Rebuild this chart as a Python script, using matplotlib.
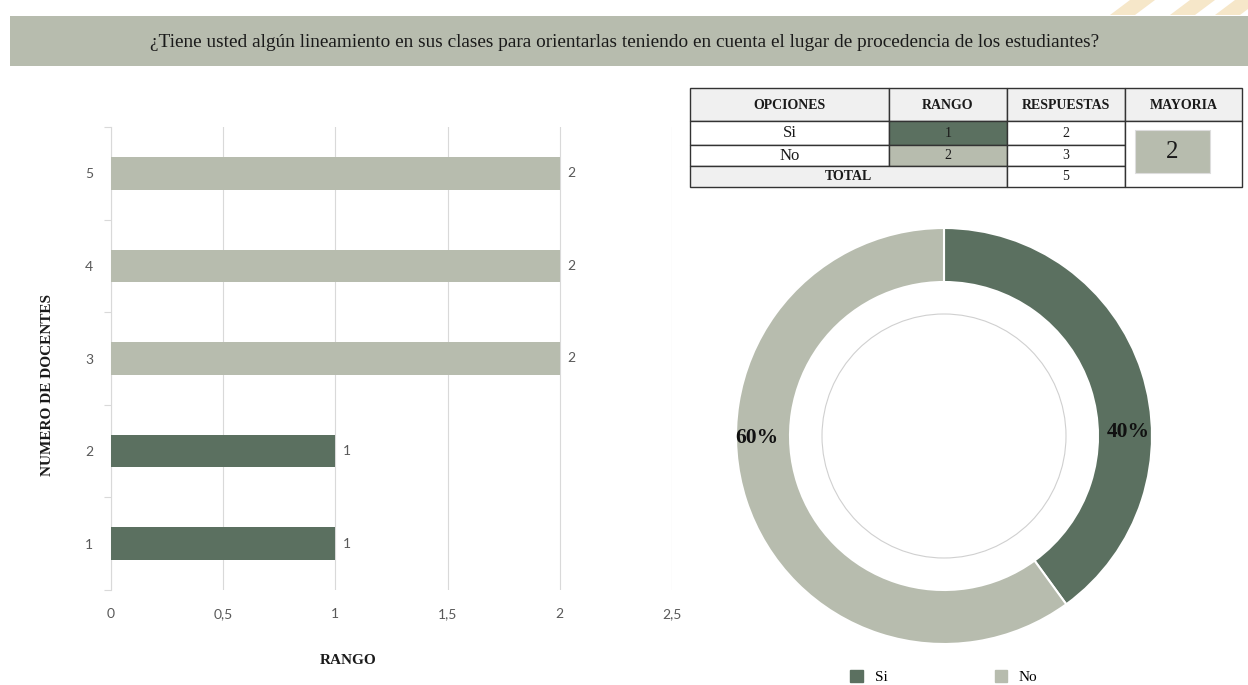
import matplotlib
matplotlib.use("Agg")
import matplotlib.pyplot as plt
from matplotlib.patches import Rectangle, Patch, Circle, Polygon

# ---------------- data ----------------
title = "¿Tiene usted algún lineamiento en sus clases para orientarlas teniendo en cuenta el lugar de procedencia de los estudiantes?"
docentes = [1, 2, 3, 4, 5]
rango_docente = [1, 1, 2, 2, 2]
x_ticks = [0, 0.5, 1, 1.5, 2, 2.5]
x_tick_labels = ["0", "0,5", "1", "1,5", "2", "2,5"]
opciones = ["Si", "No"]
rangos = [1, 2]
respuestas = [2, 3]
total_label = "TOTAL"
total = 5
mayoria = 2
headers = ["OPCIONES", "RANGO", "RESPUESTAS", "MAYORIA"]
pct_labels = ["40%", "60%"]

DARK = "#5B7060"
LIGHT = "#B7BCAE"
GRAY_TXT = "#595959"
SERIF = "Liberation Serif"
SANS = "Lato"

W, H = 1248, 685
fig = plt.figure(figsize=(W / 100, H / 100), dpi=100)
fig.patch.set_facecolor("white")

def fx(px):
    return px / W

def fy(py):
    return 1 - py / H

# ---------------- overlay (header, table) ----------------
ov = fig.add_axes([0, 0, 1, 1])
ov.set_xlim(0, W)
ov.set_ylim(H, 0)
ov.axis("off")
ov.set_zorder(0)

# faint watermark at top right
for x0 in (1110, 1170, 1215):
    ov.add_patch(Polygon([[x0, 15], [x0 + 20, 0], [x0 + 45, 0], [x0 + 25, 15]],
                         closed=True, color="#F6E7C9", lw=0))

ov.add_patch(Rectangle((10, 16), W - 10, 50, color=LIGHT, lw=0))
ov.text(625, 42, title, ha="center", va="center", family=SERIF, fontsize=13.9, color="#1a1a1a")

# table
cols = [690, 889, 1007, 1125, 1242]
rows = [88, 121, 145, 166, 187]
lw = 1.0
ec = "#333333"
# header row
for i in range(4):
    ov.add_patch(Rectangle((cols[i], rows[0]), cols[i + 1] - cols[i], rows[1] - rows[0],
                           facecolor="#F0F0F0", edgecolor=ec, lw=lw))
    ov.text((cols[i] + cols[i + 1]) / 2, (rows[0] + rows[1]) / 2 + 1, headers[i],
            ha="center", va="center", family=SERIF, fontweight="bold", fontsize=10, color="#1a1a1a")
# option rows
rcolors = [DARK, LIGHT]
for r in range(2):
    y0, y1 = rows[r + 1], rows[r + 2]
    ov.add_patch(Rectangle((cols[0], y0), cols[1] - cols[0], y1 - y0, facecolor="white", edgecolor=ec, lw=lw))
    ov.text((cols[0] + cols[1]) / 2, (y0 + y1) / 2, opciones[r], ha="center", va="center",
            family=SERIF, fontsize=12, color="#1a1a1a")
    ov.add_patch(Rectangle((cols[1], y0), cols[2] - cols[1], y1 - y0, facecolor=rcolors[r], edgecolor=ec, lw=lw))
    ov.text((cols[1] + cols[2]) / 2, (y0 + y1) / 2, str(rangos[r]), ha="center", va="center",
            family=SERIF, fontsize=10, color="#1a1a1a")
    ov.add_patch(Rectangle((cols[2], y0), cols[3] - cols[2], y1 - y0, facecolor="white", edgecolor=ec, lw=lw))
    ov.text((cols[2] + cols[3]) / 2, (y0 + y1) / 2, str(respuestas[r]), ha="center", va="center",
            family=SERIF, fontsize=10, color="#1a1a1a")
# total row
ov.add_patch(Rectangle((cols[0], rows[3]), cols[2] - cols[0], rows[4] - rows[3], facecolor="#F0F0F0", edgecolor=ec, lw=lw))
ov.text((cols[0] + cols[2]) / 2, (rows[3] + rows[4]) / 2, total_label, ha="center", va="center",
        family=SERIF, fontweight="bold", fontsize=10, color="#1a1a1a")
ov.add_patch(Rectangle((cols[2], rows[3]), cols[3] - cols[2], rows[4] - rows[3], facecolor="white", edgecolor=ec, lw=lw))
ov.text((cols[2] + cols[3]) / 2, (rows[3] + rows[4]) / 2, str(total), ha="center", va="center",
        family=SERIF, fontsize=10, color="#1a1a1a")
# mayoria merged cell
ov.add_patch(Rectangle((cols[3], rows[1]), cols[4] - cols[3], rows[4] - rows[1], facecolor="white", edgecolor=ec, lw=lw))
ov.add_patch(Rectangle((1135, 130), 75, 43, facecolor=LIGHT, edgecolor="#dddddd", lw=0.8))
ov.text(1172.5, 152, str(mayoria), ha="center", va="center", family=SERIF, fontsize=18, color="#1a1a1a")

# ---------------- bar chart ----------------
ax = fig.add_axes([fx(111), fy(590), fx(672) - fx(111), fy(127) - fy(590)])
bar_colors = [DARK if v == 1 else LIGHT for v in rango_docente]
ax.barh(docentes, rango_docente, height=0.35, color=bar_colors, zorder=3)
for y, v in zip(docentes, rango_docente):
    ax.text(v + 0.035, y, str(v), ha="left", va="center", family=SANS, fontsize=10, color=GRAY_TXT)
ax.set_xlim(0, 2.5)
ax.set_ylim(0.5, 5.5)
ax.set_xticks(x_ticks)
ax.set_xticklabels(x_tick_labels, family=SANS, fontsize=10, color=GRAY_TXT)
ax.set_yticks(docentes)
ax.set_yticklabels([str(d) for d in docentes], family=SANS, fontsize=10, color=GRAY_TXT)
ax.set_yticks([0.5, 1.5, 2.5, 3.5, 4.5, 5.5], minor=True)
ax.tick_params(axis="y", which="major", length=0, pad=13)
ax.tick_params(axis="y", which="minor", length=5, color="#d9d9d9", width=0.8)
ax.tick_params(axis="x", length=0, pad=13)
ax.grid(axis="x", color="#d9d9d9", lw=0.8, zorder=0)
for s in ["top", "right", "bottom"]:
    ax.spines[s].set_visible(False)
ax.spines["left"].set_color("#d9d9d9")
ax.spines["left"].set_linewidth(0.8)
ax.set_facecolor("none")
fig.text(fx(48), fy(385), "NUMERO DE DOCENTES", rotation=90, ha="center", va="center",
         family=SERIF, fontweight="bold", fontsize=11, color="#1a1a1a")
fig.text(fx(348), fy(660), "RANGO", ha="center", va="center",
         family=SERIF, fontweight="bold", fontsize=11, color="#1a1a1a")

# ---------------- donut ----------------
cx, cy, half = 944, 436, 220
pa = fig.add_axes([fx(cx - half), fy(cy + half), 2 * half / W, 2 * half / H])
wedges, _ = pa.pie(respuestas, colors=[DARK, LIGHT], startangle=90, counterclock=False,
                   radius=1.0, wedgeprops=dict(width=54 / 208, edgecolor="white", linewidth=1.5))
pa.add_patch(Circle((0, 0), 122 / 208, fill=False, edgecolor="#d0d0d0", lw=0.8))
L = half / 208
pa.set_xlim(-L, L)
pa.set_ylim(-L, L)
pa.set_aspect("equal")
pa.axis("off")
pa.text((1128 - cx) / 208, (cy - 432) / 208, pct_labels[0], ha="center", va="center",
        family=SERIF, fontweight="bold", fontsize=15.5, color="#111111")
pa.text((757 - cx) / 208, (cy - 438) / 208, pct_labels[1], ha="center", va="center",
        family=SERIF, fontweight="bold", fontsize=15.5, color="#111111")

handles = [Patch(facecolor=DARK, edgecolor=DARK), Patch(facecolor=LIGHT, edgecolor=LIGHT)]
fig.legend(handles, opciones, loc="center", bbox_to_anchor=(fx(944), fy(677)), ncol=2, frameon=False,
           prop=dict(family=SERIF, size=11), handlelength=0.8, handleheight=0.8,
           columnspacing=7.0, handletextpad=0.8)

fig.savefig("out.png", dpi=100, facecolor="white")
